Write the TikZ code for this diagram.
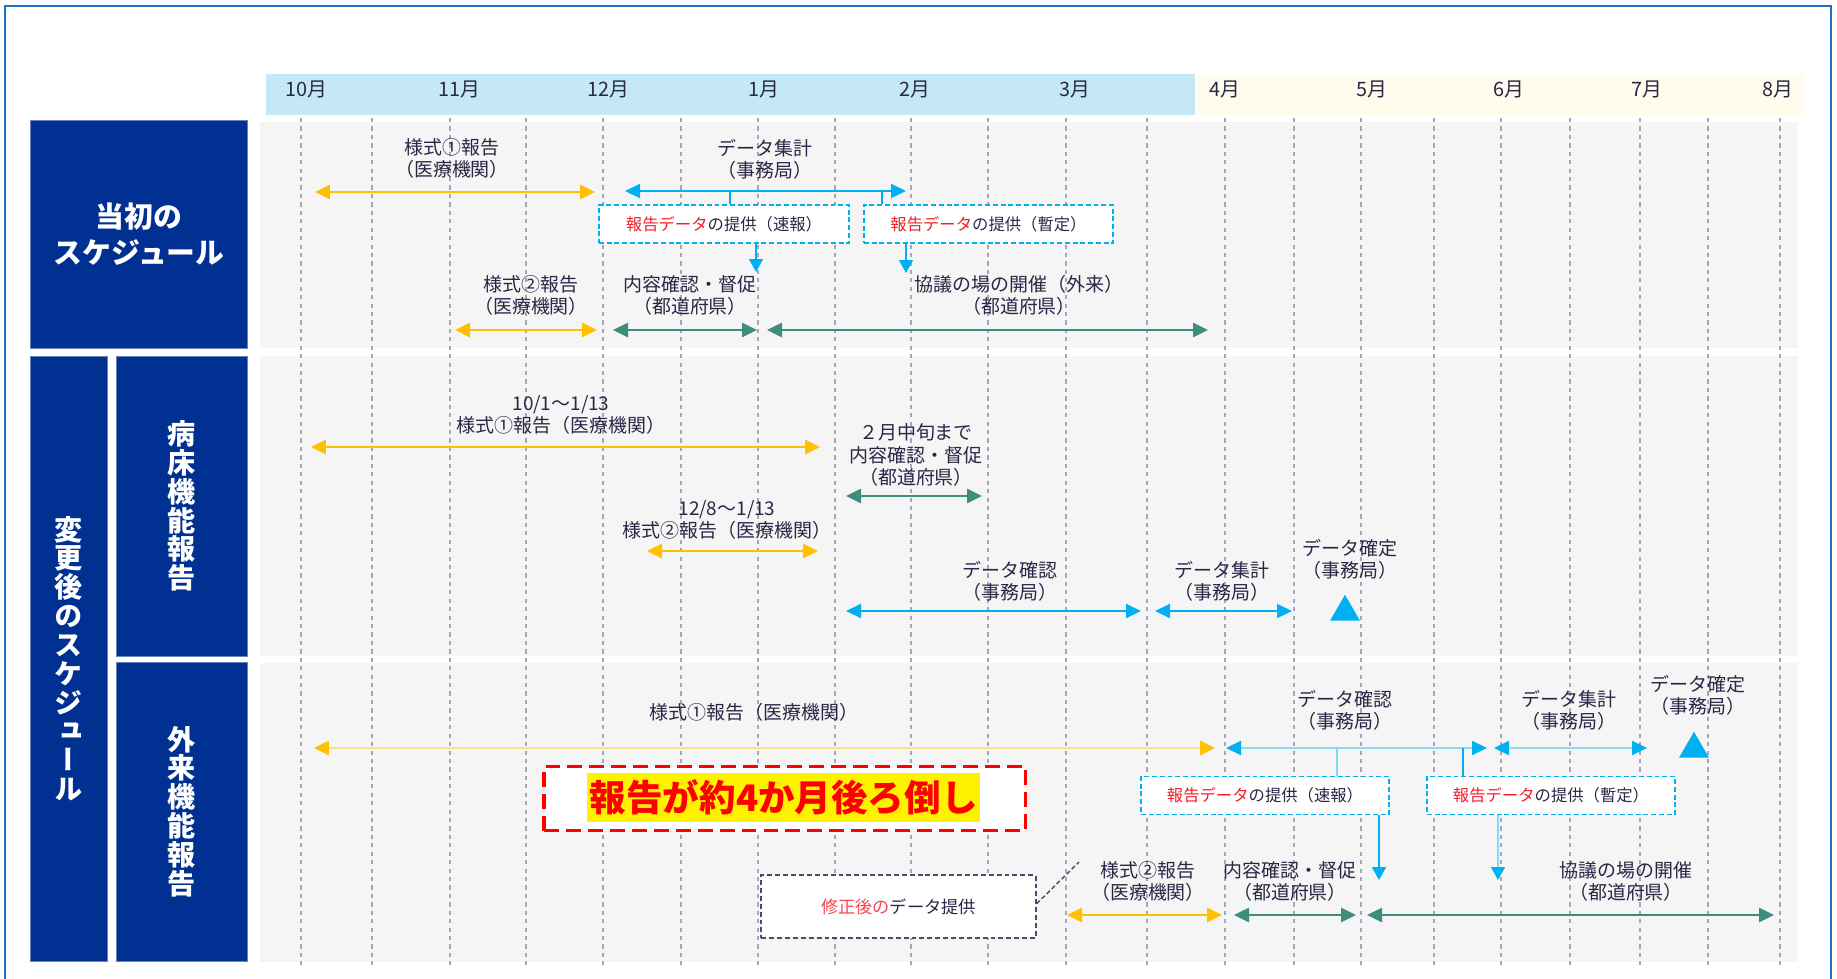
\documentclass[tikz,border=0pt]{standalone}
\usepackage{fontspec}
\setmainfont{Noto Sans CJK JP}
\newfontfamily\tatefont[RawFeature=+vert]{Noto Sans CJK JP}
\usepackage{tikz}
\usetikzlibrary{arrows.meta}
\usetikzlibrary{shapes.geometric}

\definecolor{frameblue}{RGB}{30,115,195}
\definecolor{navy}{RGB}{0,48,146}
\definecolor{headblue}{RGB}{197,232,247}
\definecolor{headcream}{RGB}{255,252,238}
\definecolor{panelgray}{RGB}{245,245,245}
\definecolor{gridgray}{RGB}{165,165,190}
\definecolor{amber}{RGB}{255,192,0}
\definecolor{skyblue}{RGB}{0,176,240}
\definecolor{tealgreen}{RGB}{62,142,126}
\definecolor{txt}{RGB}{40,40,70}
\definecolor{repred}{RGB}{240,30,40}
\definecolor{notered}{RGB}{245,70,80}
\definecolor{notegray}{RGB}{70,75,105}

\begin{document}
\begin{tikzpicture}[x=0.02cm,y=-0.02cm,
    lbl/.style={text=txt,align=center,inner sep=0pt,font=\fontsize{10.8}{12.6}\selectfont},
    month/.style={text=txt,inner sep=0pt,font=\fontsize{11.3}{13}\selectfont},
    navybox/.style={fill=navy,draw=navy!60!white,line width=0.5pt,text=white,align=center,inner sep=0pt},
    tate/.style={font=\tatefont\bfseries\fontsize{16}{16.4}\selectfont},
    amb/.style={draw=amber,line width=1.5pt,arrows={Triangle[length=0.3cm,width=0.28cm,color=amber]-Triangle[length=0.3cm,width=0.28cm,color=amber]}},
    amblt/.style={amb,draw=amber!45},
    sky/.style={draw=skyblue,line width=1.2pt,arrows={Triangle[length=0.3cm,width=0.28cm,color=skyblue]-Triangle[length=0.3cm,width=0.28cm,color=skyblue]}},
    skylt/.style={sky,draw=skyblue!45},
    grn/.style={draw=tealgreen,line width=1.5pt,arrows={Triangle[length=0.3cm,width=0.28cm,color=tealgreen]-Triangle[length=0.3cm,width=0.28cm,color=tealgreen]}},
    stub/.style={draw=skyblue,line width=0.9pt},
    stublt/.style={draw=skyblue!50,line width=0.9pt},
    dn/.style={draw=skyblue,line width=0.9pt,arrows={-Triangle[length=0.26cm,width=0.28cm,color=skyblue]}},
    qbox/.style={draw=skyblue,line width=1.1pt,dash pattern=on 2.8pt off 1.6pt,fill=white,minimum height=0.76cm,inner sep=0pt,text=txt,font=\fontsize{9.3}{11}\selectfont},
    donemark/.style={regular polygon,regular polygon sides=3,fill=skyblue,inner sep=0pt,minimum size=0.69cm}]
    \useasboundingbox (0,0) rectangle (1837,978);
    \fill[white] (0,0) rectangle (1837,978);
    \draw[frameblue,line width=1.6pt] (5,1000) -- (5,6) -- (1831,6) -- (1831,1000);
    \fill[headblue] (266,74) rectangle (1195,115);
    \fill[headcream] (1197,74) rectangle (1803,115);
    \foreach \mx/\mt in {306/10,459/11,608/12,764/1,915/2,1075/3,1225/4,1372/5,1509/6,1647/7,1778/8}
        \node[month] (m\mt) at (\mx,89) {\mt 月};
    \fill[panelgray] (260,122) rectangle (1798,348);
    \fill[panelgray] (260,356) rectangle (1798,656);
    \fill[panelgray] (260,663) rectangle (1798,962);
    \foreach \gx in {301,372,450,526,603,681,758,835,911,988,1066,1147,1225,1294,1361,1434,1501,1570,1640,1708,1780}
        \draw[gridgray,line width=0.6pt,dash pattern=on 2.4pt off 2.4pt] (\gx,118) -- (\gx,965);

    \node[navybox,minimum width=4.33cm,minimum height=4.56cm,font=\bfseries\fontsize{16.4}{20.4}\selectfont] (init) at (139,234) {当初の\\スケジュール};
    \node[navybox,tate,minimum width=1.54cm,minimum height=12.1cm] (after) at (69,658.5) {変\\更\\後\\の\\ス\\ケ\\ジ\\ュ\\ー\\ル};
    \node[navybox,tate,minimum width=2.61cm,minimum height=6cm] (bed) at (182,506) {病\\床\\機\\能\\報\\告};
    \node[navybox,tate,minimum width=2.61cm,minimum height=5.98cm] (outp) at (182,811.5) {外\\来\\機\\能\\報\\告};

    \node[lbl] (rep1a) at (452,158) {様式①報告\\（医療機関）};
    \draw[amb] (315,192) -- (595,192);
    \node[lbl] (agg1) at (765,159) {データ集計\\（事務局）};
    \draw[sky] (625,191) -- (906,191);
    \node[qbox,minimum width=5cm] (prov1) at (724,224) {\textcolor{repred}{報告データ}の提供（速報）};
    \node[qbox,minimum width=4.98cm] (prov2) at (988.5,224) {\textcolor{repred}{報告データ}の提供（暫定）};
    \coordinate (s1) at (730,191);
    \coordinate (s2) at (882,191);
    \draw[stub] (s1) -- (s1 |- prov1.north);
    \draw[stub] (s2) -- (s2 |- prov2.north);
    \coordinate (d1) at (756,272);
    \coordinate (d2) at (906,273);
    \draw[dn] (d1 |- prov1.south) -- (d1);
    \draw[dn] (d2 |- prov2.south) -- (d2);
    \node[lbl] (rep2a) at (531,295) {様式②報告\\（医療機関）};
    \draw[amb] (455,330) -- (597,330);
    \node[lbl] (chk1) at (690,295) {内容確認・督促\\（都道府県）};
    \draw[grn] (613,330) -- (757,330);
    \node[lbl] (meet1) at (1019,295) {協議の場の開催（外来）\\（都道府県）};
    \draw[grn] (767,330) -- (1208,330);

    \node[lbl] (rep1b) at (561,415) {10/1～1/13\\様式①報告（医療機関）};
    \draw[amb] (311,447) -- (820,447);
    \node[lbl] (chk2) at (916,455) {２月中旬まで\\内容確認・督促\\（都道府県）};
    \draw[grn] (846,496) -- (982,496);
    \node[lbl] (rep2b) at (727,520) {12/8～1/13\\様式②報告（医療機関）};
    \draw[amb] (647,551) -- (818,551);
    \node[lbl] (conf2) at (1010,581) {データ確認\\（事務局）};
    \draw[sky] (846,611) -- (1141,611);
    \node[lbl] (agg2) at (1222,581) {データ集計\\（事務局）};
    \draw[sky] (1155,611) -- (1292,611);
    \node[lbl] (fin2) at (1350,559) {データ確定\\（事務局）};
    \node[donemark] (fix2) at (1345,612) {};

    \node[lbl] (rep1c) at (754,712) {様式①報告（医療機関）};
    \draw[amblt] (314,748) -- (1215,748);
    \node[lbl] (conf3) at (1345,710) {データ確認\\（事務局）};
    \draw[skylt] (1226,748) -- (1487,748);
    \node[lbl] (agg3) at (1569,710) {データ集計\\（事務局）};
    \draw[skylt] (1494,748) -- (1647,748);
    \node[lbl] (fin3) at (1698,695) {データ確定\\（事務局）};
    \node[donemark] (fix3) at (1694,749) {};
    \node[qbox,minimum width=4.96cm] (prov3) at (1265,795.5) {\textcolor{repred}{報告データ}の提供（速報）};
    \node[qbox,minimum width=4.96cm] (prov4) at (1551,795.5) {\textcolor{repred}{報告データ}の提供（暫定）};
    \coordinate (s3) at (1337,748);
    \coordinate (s4) at (1463,748);
    \draw[stublt] (s3) -- (s3 |- prov3.north);
    \draw[stub] (s4) -- (s4 |- prov4.north);
    \coordinate (d3) at (1379,880);
    \coordinate (d4) at (1498,880);
    \draw[dn] (d3 |- prov3.south) -- (d3);
    \draw[dn,draw=skyblue!50] (d4 |- prov4.south) -- (d4);
    \node[draw=red,line width=1.9pt,dash pattern=on 8.5pt off 4pt,fill=white,minimum width=9.63cm,minimum height=1.28cm] (delay) at (784.6,798.7) {};
    \node[fill=yellow,text=red,inner sep=0pt,minimum width=7.87cm,minimum height=0.97cm,font=\bfseries\fontsize{20.8}{23}\selectfont] (delaytxt) at (783.7,797.5) {報告が約4か月後ろ倒し};
    \node[draw=notegray,line width=1.1pt,dash pattern=on 2.8pt off 1.7pt,fill=white,minimum width=5.49cm,minimum height=1.26cm,text=txt,font=\fontsize{9.8}{11.5}\selectfont] (fix) at (898.5,906.7) {\textcolor{notered}{修正後の}データ提供};
    \coordinate (fixend) at (1079,862);
    \draw[notegray,line width=0.8pt,dash pattern=on 2.5pt off 1.5pt] (fix.east) ++(0,-3) -- (fixend);
    \node[lbl] (rep2c) at (1148,881) {様式②報告\\（医療機関）};
    \draw[amb] (1067,915) -- (1222,915);
    \node[lbl] (chk3) at (1290,881) {内容確認・督促\\（都道府県）};
    \draw[grn] (1234,915) -- (1356,915);
    \node[lbl] (meet3) at (1626,881) {協議の場の開催\\（都道府県）};
    \draw[grn] (1367,915) -- (1774,915);
\end{tikzpicture}
\end{document}
